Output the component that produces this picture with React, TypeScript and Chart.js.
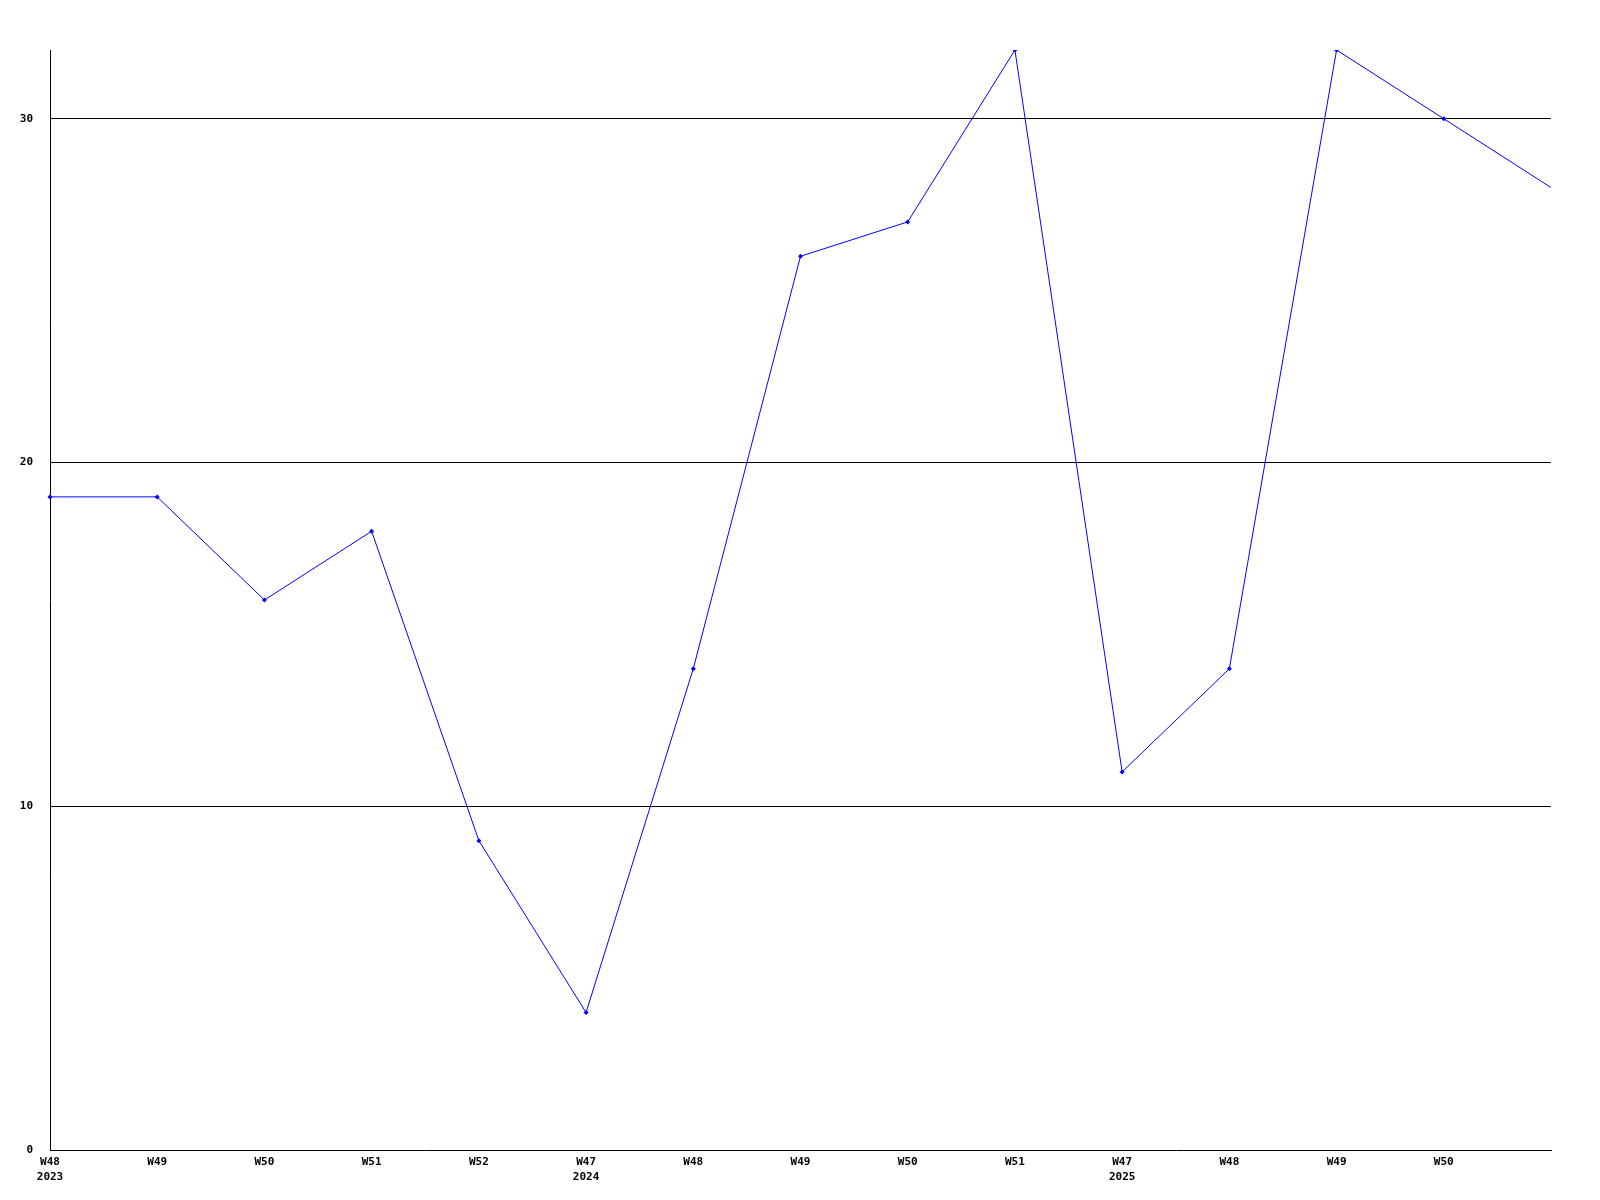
import React, { useEffect, useRef } from "react";
import { Chart, registerables } from "chart.js";

Chart.register(...registerables);

const weekLabels: (string | string[])[] = [
  ["W48", "2023"], "W49", "W50", "W51", "W52",
  ["W47", "2024"], "W48", "W49", "W50", "W51",
  ["W47", "2025"], "W48", "W49", "W50", "",
];
const seriesValues: number[] = [19, 19, 16, 18, 9, 4, 14, 26, 27, 32, 11, 14, 32, 30, 28];
const yTickValues: number[] = [0, 10, 20, 30];
const yMax = 32;

export default function App() {
  const ref = useRef<HTMLCanvasElement | null>(null);
  useEffect(() => {
    if (!ref.current) return;
    const font = { family: "'DejaVu Sans Mono', monospace", size: 11, weight: "bold" as const, lineHeight: 1.35 };
    const chart = new Chart(ref.current, {
      type: "line",
      data: {
        labels: weekLabels,
        datasets: [
          {
            data: seriesValues,
            borderColor: "#0000ff",
            backgroundColor: "#0000ff",
            borderWidth: 1,
            pointStyle: "rectRot",
            pointRadius: seriesValues.map((_, i) => (i === seriesValues.length - 1 ? 0 : 2.5)),
            pointBorderWidth: 0,
            tension: 0,
            fill: false,
          },
        ],
      },
      options: {
        responsive: false,
        animation: false,
        devicePixelRatio: 1,
        layout: { padding: { left: 0, top: 50, right: 49, bottom: 0 } },
        plugins: { legend: { display: false }, tooltip: { enabled: false } },
        scales: {
          x: {
            offset: false,
            grid: { display: false, drawTicks: false },
            border: { display: true, color: "#000000", width: 1 },
            ticks: {
              autoSkip: false,
              maxRotation: 0,
              minRotation: 0,
              padding: 5,
              color: "#000000",
              font,
            },
            afterFit: (s: any) => {
              s.height = 50;
            },
          },
          y: {
            min: 0,
            max: yMax,
            grid: {
              color: (ctx: any) => (ctx.tick && ctx.tick.value === 0 ? "rgba(0,0,0,0)" : "#000000"),
              lineWidth: 1,
              drawTicks: false,
            },
            border: { display: true, color: "#000000", width: 1 },
            ticks: {
              stepSize: 10,
              padding: 17,
              color: "#000000",
              font,
            },
            afterBuildTicks: (s: any) => {
              s.ticks = yTickValues.map((v) => ({ value: v }));
            },
            afterFit: (s: any) => {
              s.width = 50;
            },
          },
        },
      },
    });
    return () => chart.destroy();
  }, []);
  return (
    <div style={{ position: "absolute", left: 0, top: 0, width: 1600, height: 1200, background: "#ffffff" }}>
      <canvas ref={ref} width={1600} height={1200} style={{ width: 1600, height: 1200, display: "block" }} />
    </div>
  );
}
